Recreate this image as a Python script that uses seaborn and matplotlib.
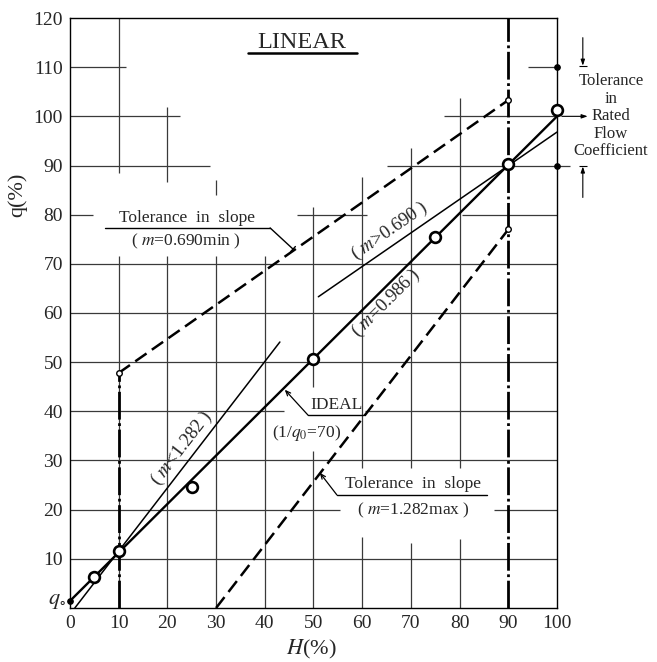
import math
import matplotlib
matplotlib.use("Agg")
import matplotlib.pyplot as plt
import seaborn as sns

# ---------------- data ----------------
x_ticks = list(range(0, 101, 10))
y_ticks = list(range(10, 121, 10))

meas_H = [5, 10, 25, 50, 75, 90, 100]          # measured points (open circles)
meas_q = [6.4, 11.5, 24.6, 50.6, 75.5, 90.3, 101.3]

ideal_H = [0, 100]                             # IDEAL (1/q0 = 70), m = 0.986
ideal_q = [1.43, 100]

steep_H = [1.0, 43.1]                          # (m < 1.282)
steep_q = [0.0, 54.1]

shallow_H = [51.0, 100.0]                      # (m > 0.690)
shallow_q = [63.3, 96.8]

tol_min_H = [10, 90]                           # tolerance in slope, m = 0.690 min
tol_min_q = [47.8, 103.3]
tol_max_H = [30, 90]                           # tolerance in slope, m = 1.282 max
tol_max_q = [0.0, 77.0]

rated_H = [100, 100]                           # tolerance in rated flow coefficient
rated_q = [110, 90]
q0_H = [0]
q0_q = [1.43]

# ---------------- style ----------------
sns.set_style("white")
plt.rcParams["font.family"] = ["Liberation Serif", "DejaVu Serif"]
plt.rcParams["mathtext.fontset"] = "stix"

fig = plt.figure(figsize=(6.57, 6.62), dpi=100)
ax = fig.add_axes([0.1065, 0.0816, 0.7413, 0.8912])
ax.set_xlim(0, 100)
ax.set_ylim(0, 120)

# broken drafting grid (value, start, end)
grid_h = [(10, 0, 100), (20, 0, 55.5), (20, 87, 100), (30, 0, 100), (40, 0, 44),
          (40, 60.5, 100), (50, 0, 100), (60, 0, 100), (70, 0, 100), (80, 0, 4.7),
          (80, 46.6, 61), (80, 80.5, 100), (90, 0, 28.7), (90, 65, 102.7),
          (100, 0, 22.6), (100, 76.8, 100), (110, 0, 11.5), (110, 94, 100.2)]
grid_v = [(10, 0, 71.5), (10, 88.5, 120), (20, 0, 71.5), (20, 86.7, 102),
          (30, 0, 71.5), (30, 84, 87), (40, 0, 71.5), (50, 0, 32), (50, 45, 81.6),
          (60, 0, 14.4), (60, 28.5, 87.7), (70, 0, 13.2), (70, 28.5, 93.5),
          (80, 0, 14), (80, 28.5, 103.7)]
gcol = "#3a3a3a"
for y, a, b in grid_h:
    ax.hlines(y, a, b, color=gcol, lw=0.9, zorder=1, clip_on=False)
for x, a, b in grid_v:
    ax.vlines(x, a, b, color=gcol, lw=0.9, zorder=1, clip_on=False)

# thick dash-dot verticals at 10 % and 90 %
dashdot = (0, (10, 1.3, 1, 1.3))
sns.lineplot(x=[tol_min_H[0], tol_min_H[0]], y=[0, tol_min_q[0]], ax=ax, color="black",
             lw=2.0, linestyle=dashdot, estimator=None, sort=False, zorder=2)
sns.lineplot(x=[tol_min_H[1], tol_min_H[1]], y=[0, 120], ax=ax, color="black",
             lw=2.0, linestyle=dashdot, estimator=None, sort=False, zorder=2)

# lines
sns.lineplot(x=ideal_H, y=ideal_q, ax=ax, color="black", lw=1.7,
             estimator=None, sort=False, zorder=3)
sns.lineplot(x=steep_H, y=steep_q, ax=ax, color="black", lw=1.1,
             estimator=None, sort=False, zorder=3)
sns.lineplot(x=shallow_H, y=shallow_q, ax=ax, color="black", lw=1.1,
             estimator=None, sort=False, zorder=3)
dash = (0, (5.5, 2.6))
sns.lineplot(x=tol_min_H, y=tol_min_q, ax=ax, color="black", lw=1.8,
             linestyle=dash, estimator=None, sort=False, zorder=3)
sns.lineplot(x=tol_max_H, y=tol_max_q, ax=ax, color="black", lw=1.8,
             linestyle=dash, estimator=None, sort=False, zorder=3)

# markers
sns.scatterplot(x=meas_H, y=meas_q, ax=ax, s=60, facecolor="white",
                edgecolor="black", linewidth=1.9, zorder=6, clip_on=False)
sns.scatterplot(x=[tol_min_H[0], tol_min_H[1], tol_max_H[1]],
                y=[tol_min_q[0], tol_min_q[1], tol_max_q[1]], ax=ax, s=16,
                facecolor="white", edgecolor="black", linewidth=1.0, zorder=6)
sns.scatterplot(x=rated_H + q0_H, y=rated_q + q0_q, ax=ax, s=16, color="black",
                edgecolor="black", linewidth=0.8, zorder=6, clip_on=False)

# axes / ticks
ax.set_xticks(x_ticks)
ax.set_yticks(y_ticks)
ax.tick_params(length=0, pad=5, labelsize=14)
for s in ax.spines.values():
    s.set_color("black")
    s.set_linewidth(1.0)
ax.set_xlabel("$H$(%)", fontsize=16)
ax.set_ylabel("q(%)", fontsize=16)
ax.xaxis.set_label_coords(0.495, -0.071)
ax.xaxis.label.set_verticalalignment("center")
ax.yaxis.set_label_coords(-0.109, 0.70)
ax.yaxis.label.set_verticalalignment("center")
ax.text(-2.7, 1.4, r"$q_{\circ}$", fontsize=16, ha="center", va="center")

# title
ax.text(0.476, 0.958, "LINEAR", transform=ax.transAxes, ha="center", va="center",
        fontsize=17.5)
ax.plot([0.365, 0.589], [0.9407, 0.9407], transform=ax.transAxes, color="black", lw=1.8)


def ang(xs, ys):
    p0 = ax.transData.transform((xs[0], ys[0]))
    p1 = ax.transData.transform((xs[1], ys[1]))
    return math.degrees(math.atan2(p1[1] - p0[1], p1[0] - p0[0]))


fs = 12.5
rfs = 13.5
ax.text(65.7, 76.6, "( $m$>0.690 )", rotation=ang(shallow_H, shallow_q),
        rotation_mode="anchor", ha="center", va="center", fontsize=rfs)
ax.text(65.0, 62.1, "( $m$=0.986 )", rotation=ang(ideal_H, ideal_q),
        rotation_mode="anchor", ha="center", va="center", fontsize=rfs)
ax.text(23.0, 32.4, "( $m$<1.282 )", rotation=ang(steep_H, steep_q),
        rotation_mode="anchor", ha="center", va="center", fontsize=rfs)

# upper tolerance annotation
ax.text(24.0, 79.4, "Tolerance  in  slope", ha="center", va="center", fontsize=fs)
ax.text(23.8, 74.6, "( $m$=0.690min )", ha="center", va="center", fontsize=fs)
ax.plot([7.2, 41.1], [77.3, 77.3], color="black", lw=1.0)
ax.annotate("", xy=(45.8, 73.0), xytext=(41.1, 77.3),
            arrowprops=dict(arrowstyle="-[, widthB=0.25, lengthB=0.0", lw=1.0, color="black",
                            shrinkA=0, shrinkB=0))

# IDEAL annotation
ax.text(54.8, 41.3, "IDEAL", ha="center", va="center", fontsize=fs)
ax.text(48.6, 35.6, "(1/$q_0$=70)", ha="center", va="center", fontsize=fs)
ax.plot([48.9, 60.4], [39.2, 39.2], color="black", lw=1.0)
ax.annotate("", xy=(44.1, 44.4), xytext=(48.9, 39.2),
            arrowprops=dict(arrowstyle="->, head_length=0.35, head_width=0.15", lw=0.9,
                            color="black", shrinkA=0, shrinkB=0))

# lower tolerance annotation
ax.text(70.5, 25.2, "Tolerance  in  slope", ha="center", va="center", fontsize=fs)
ax.text(70.6, 19.9, "( $m$=1.282max )", ha="center", va="center", fontsize=fs)
ax.plot([54.8, 85.6], [23.0, 23.0], color="black", lw=1.0)
ax.annotate("", xy=(51.3, 27.5), xytext=(54.8, 23.0),
            arrowprops=dict(arrowstyle="->, head_length=0.35, head_width=0.15", lw=0.9,
                            color="black", shrinkA=0, shrinkB=0))

# rated flow coefficient tolerance (right side)
ax.text(111.1, 100.0, "Tolerance\nin\nRated\nFlow\nCoefficient", ha="center",
        va="center", fontsize=12, linespacing=1.12)
ax.annotate("", xy=(106.3, 100), xytext=(101.0, 100), annotation_clip=False,
            arrowprops=dict(arrowstyle="-|>, head_length=0.35, head_width=0.12", lw=0.8,
                            color="black", shrinkA=0, shrinkB=0))
ax.annotate("", xy=(105.3, 110.3), xytext=(105.3, 116.0), annotation_clip=False,
            arrowprops=dict(arrowstyle="-|>, head_length=0.35, head_width=0.12", lw=0.8,
                            color="black", shrinkA=0, shrinkB=0))
ax.annotate("", xy=(105.3, 89.8), xytext=(105.3, 83.5), annotation_clip=False,
            arrowprops=dict(arrowstyle="-|>, head_length=0.35, head_width=0.12", lw=0.8,
                            color="black", shrinkA=0, shrinkB=0))
ax.hlines([110.2, 89.8], 104.5, 106.1, color="black", lw=0.8, clip_on=False)

fig.savefig("out.png", dpi=100)
